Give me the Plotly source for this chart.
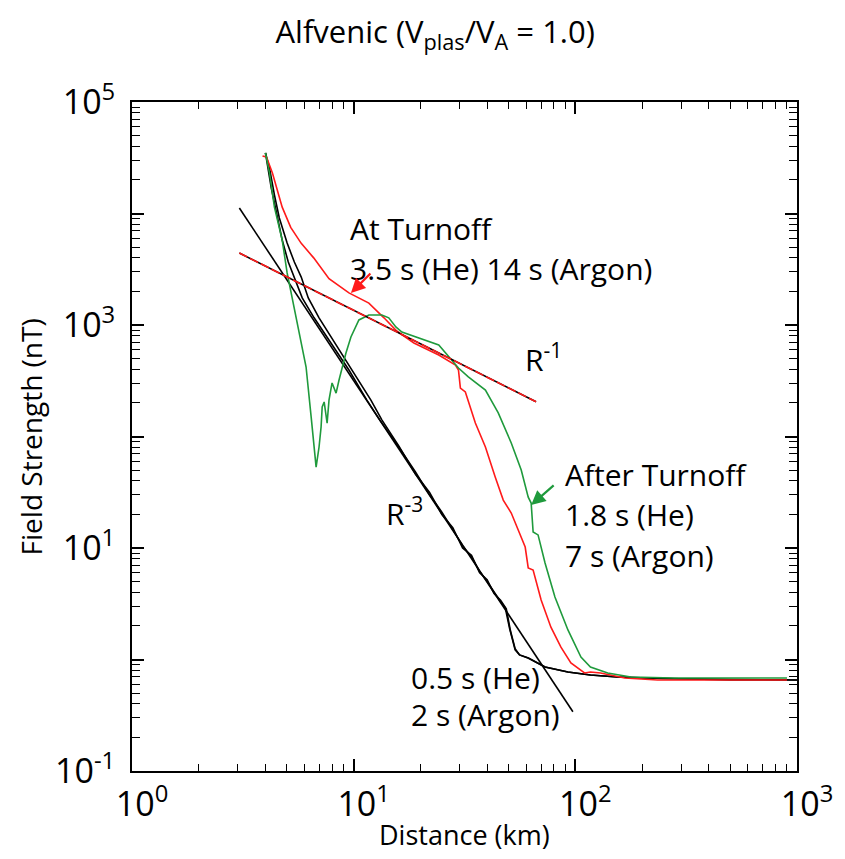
import numpy as np
import plotly.graph_objects as go

# ---------------- data ----------------
# R^-3 and R^-1 reference power-law lines
r3_x = [3.05, 97.5]
r3_y = [11200, 0.34]
r1_x = [3.05, 66.5]
r1_y = [4420, 205]

# black: 0.5 s (He) / 2 s (Argon)  (two nearly identical runs)
he_x = [4.00, 4.08, 4.25, 4.48, 4.76, 5.07, 5.40, 5.86, 6.63, 7.74, 9.52, 11.47, 13.1,
        16.0, 19.0, 22.0, 25.0, 28.0, 31.0, 34.0, 37.0, 40.0, 43.0, 46.0, 48.3, 50.5,
        53.5, 56.0, 61.3, 73.0, 92.6, 117, 155, 250, 500, 1000]
he_y = [34900, 27200, 16900, 10300, 5780, 3670, 2690, 1750, 1160, 733, 395, 212, 141,
        80, 48, 30, 21, 14.6, 10.5, 8.3, 6.2, 5.0, 4.0, 3.3, 2.9, 1.9,
        1.22, 1.10, 1.03, 0.857, 0.773, 0.726, 0.697, 0.675, 0.66, 0.655]
ar_x = [4.00, 4.17, 4.39, 4.62, 5.01, 5.40, 5.80, 6.24, 6.98, 8.07, 9.82, 11.96, 13.4,
        16.0, 19.0, 22.0, 25.0, 28.0, 31.0, 34.0, 37.0, 40.0, 43.0, 46.0, 48.8, 51.0,
        53.5, 56.0, 61.3, 73.0, 92.6, 117, 155, 250, 500, 1000]
ar_y = [34900, 25600, 14700, 9120, 5430, 3670, 2690, 1750, 1160, 733, 395, 212, 141,
        82, 46, 31.5, 20, 15.2, 10, 8.6, 6.0, 5.2, 3.9, 3.4, 2.85, 1.8,
        1.25, 1.10, 1.03, 0.857, 0.773, 0.726, 0.697, 0.675, 0.66, 0.655]

# red: at turnoff
red_x = [3.88, 4.04, 4.30, 4.76, 5.20, 5.80, 6.60, 7.74, 9.52, 11.71, 13.7, 15.65, 18.7,
         24.2, 28.8, 29.7, 30.3, 31.9, 35.4, 39.3, 43.5, 47.3, 51.4, 59.4, 61.3, 64.5,
         70.1, 77.6, 86.1, 95.5, 110, 117, 130, 167, 235, 901]
red_y = [32800, 32100, 23100, 11400, 7500, 5400, 4000, 2600, 1940, 1570, 1160, 883, 690,
         538, 438, 395, 272, 251, 132, 80.5, 43.4, 26.9, 20.6, 10.2, 6.62, 6.35,
         3.42, 1.95, 1.29, 0.93, 0.757, 0.773, 0.757, 0.683, 0.655, 0.655]

# green: after turnoff
grn_x = [4.00, 4.17, 4.39, 4.76, 5.01, 5.28, 5.68, 6.10, 6.43, 6.63, 6.77, 6.98, 7.13,
         7.21, 7.36, 7.59, 7.74, 7.99, 8.33, 8.59, 8.86, 9.23, 9.72, 10.56, 11.71, 13.4,
         14.4, 15.5, 16.5, 19.0, 24.2, 29.7, 32.9, 39.3, 44.9, 51.4, 57.0, 61.3, 63.2,
         64.5, 67.9, 73.0, 80.9, 92.6, 106, 117, 140, 178, 280, 901]
grn_y = [34900, 23100, 11400, 5780, 2930, 1780, 847, 420, 150, 75.7, 53.2, 80.5, 122,
         184, 204, 132, 212, 302, 245, 321, 420, 561, 780, 1110, 1230, 1230,
         1160, 960, 865, 780, 662, 411, 342, 261, 163, 87.5, 50.1, 28.6, 25.3,
         13.9, 13.1, 7.33, 3.64, 1.84, 1.05, 0.857, 0.757, 0.697, 0.683, 0.683]

# annotation arrows (tip positions, data units)
red_arrow_tip = (9.72, 1937)
grn_arrow_tip = (63.2, 24.3)

# text labels: (text, x, y)
labels = [
    ("At Turnoff", 9.45, 7410),
    ("3.5 s (He) 14 s (Argon)", 9.45, 3240),
    ("R<sup>-1</sup>", 58.2, 506),
    ("After Turnoff", 87.9, 45.2),
    ("1.8 s (He)", 87.9, 19.8),
    ("7 s (Argon)", 87.9, 8.65),
    ("R<sup>-3</sup>", 13.7, 21.0),
    ("0.5 s (He)", 17.7, 0.683),
    ("2 s (Argon)", 17.7, 0.318),
]

x_tick_vals = [1, 10, 100, 1000]
x_tick_text = ["10<sup>0</sup>", "10<sup>1</sup>", "10<sup>2</sup>", "10<sup>3</sup>"]
y_tick_vals = [0.1, 1, 10, 100, 1000, 10000, 100000]
y_tick_text = ["10<sup>-1</sup>", "", "10<sup>1</sup>", "", "10<sup>3</sup>", "", "10<sup>5</sup>"]

# ---------------- styles ----------------
RED = "#ff1a1a"
GREEN = "#1f9a3c"
FONT = "Open Sans"

fig = go.Figure()
lw = 1.6
fig.add_trace(go.Scatter(x=r3_x, y=r3_y, mode="lines", line=dict(color="black", width=lw)))
fig.add_trace(go.Scatter(x=he_x, y=he_y, mode="lines", line=dict(color="black", width=lw)))
fig.add_trace(go.Scatter(x=ar_x, y=ar_y, mode="lines", line=dict(color="black", width=lw)))
fig.add_trace(go.Scatter(x=red_x, y=red_y, mode="lines", line=dict(color=RED, width=lw)))
fig.add_trace(go.Scatter(x=grn_x, y=grn_y, mode="lines", line=dict(color=GREEN, width=lw)))
fig.add_trace(go.Scatter(x=r1_x, y=r1_y, mode="lines", line=dict(color="black", width=lw)))
fig.add_trace(go.Scatter(x=r1_x, y=r1_y, mode="lines",
                         line=dict(color=RED, width=lw, dash="9px,3px")))

annotations = []
for txt, x, y in labels:
    annotations.append(dict(x=np.log10(x), y=np.log10(y), xref="x", yref="y", text=txt,
                            showarrow=False, xanchor="left", yanchor="middle",
                            font=dict(family=FONT, size=30, color="black")))
annotations.append(dict(x=np.log10(red_arrow_tip[0]), y=np.log10(red_arrow_tip[1]),
                        xref="x", yref="y", text="", showarrow=True, ax=21, ay=-21,
                        arrowcolor=RED, arrowhead=2, arrowsize=1.3, arrowwidth=2.2))
annotations.append(dict(x=np.log10(grn_arrow_tip[0]), y=np.log10(grn_arrow_tip[1]),
                        xref="x", yref="y", text="", showarrow=True, ax=24, ay=-21,
                        arrowcolor=GREEN, arrowhead=2, arrowsize=1.3, arrowwidth=2.2))
# axis titles
annotations.append(dict(x=0.5, y=-0.095, xref="paper", yref="paper", text="Distance (km)",
                        showarrow=False, xanchor="center", yanchor="middle",
                        font=dict(family=FONT, size=27, color="black")))
annotations.append(dict(x=-0.152, y=0.5, xref="paper", yref="paper",
                        text="Field Strength (nT)", textangle=-90,
                        showarrow=False, xanchor="center", yanchor="middle",
                        font=dict(family=FONT, size=28, color="black")))

x_minor = [k * 10 ** d for d in range(0, 3) for k in range(2, 10)]
y_minor = [k * 10.0 ** d for d in range(-1, 5) for k in range(2, 10)]

axis_common = dict(showline=True, linecolor="black", linewidth=2, mirror="allticks",
                   ticks="inside", tickcolor="black", tickwidth=1.5, ticklen=12,
                   showgrid=False, zeroline=False,
                   tickfont=dict(family=FONT, size=34, color="black"))

fig.update_layout(
    width=845, height=859,
    margin=dict(l=132, r=45, t=102, b=88),
    paper_bgcolor="white", plot_bgcolor="white",
    showlegend=False,
    title=dict(text="Alfvenic (V<sub>plas</sub>/V<sub>A</sub> = 1.0)",
               x=0.515, xanchor="center", y=0.962, yanchor="middle",
               font=dict(family=FONT, size=31, color="black")),
    xaxis=dict(type="log", range=[0, 3], tickmode="array", tickvals=x_tick_vals,
               ticktext=x_tick_text, ticklabelstandoff=2, ticklabelshift=10,
               minor=dict(tickmode="array", tickvals=x_minor, ticks="inside", ticklen=7,
                          tickcolor="black", tickwidth=1.3),
               **axis_common),
    yaxis=dict(type="log", range=[-1, 5], tickmode="array", tickvals=y_tick_vals,
               ticktext=y_tick_text, ticklabelstandoff=8,
               minor=dict(tickmode="array", tickvals=y_minor, ticks="inside", ticklen=8,
                          tickcolor="black", tickwidth=1.3),
               **axis_common),
    annotations=annotations,
)

fig.write_html("out.html")
